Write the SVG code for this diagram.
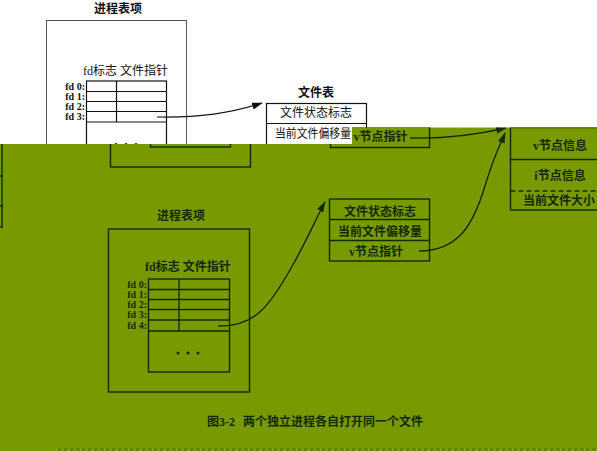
<svg xmlns="http://www.w3.org/2000/svg" width="597" height="451" viewBox="0 0 597 451">
<style>
.wb{fill:none;stroke:#555;stroke-width:1}
.wt{fill:none;stroke:#111;stroke-width:1.2}
.cj{font-family:"Liberation Serif","Noto Sans CJK SC",serif;font-size:12px;fill:#111}
.hd{font-weight:bold}
.fd{font-family:"Liberation Serif",serif;font-size:10px;font-weight:bold;fill:#111;text-anchor:end}
.g{fill:none;stroke:#0f2c00;stroke-width:1.4}
.gt{font-family:"Liberation Serif","Noto Sans CJK SC",serif;font-size:12px;font-weight:bold;fill:#112a00}
.gfd{font-family:"Liberation Serif",serif;font-size:10px;font-weight:bold;fill:#112a00;text-anchor:end}
.mid{text-anchor:middle}
.cw{fill:none;stroke:#111;stroke-width:1.2}
.cg{fill:none;stroke:#0f2c00;stroke-width:1.4}
</style>
<defs>
<marker id="aw" markerWidth="11" markerHeight="7" refX="10" refY="3.5" orient="auto" markerUnits="userSpaceOnUse"><path d="M0,0 L11,3.5 L0,7 z" fill="#111"/></marker>
<marker id="ag" markerWidth="11" markerHeight="7" refX="10" refY="3.5" orient="auto" markerUnits="userSpaceOnUse"><path d="M0,0 L11,3.5 L0,7 z" fill="#0f2c00"/></marker>
<clipPath id="gc"><rect x="0" y="144" width="597" height="307"/><rect x="352" y="127.5" width="245" height="17"/></clipPath>
</defs>
<rect width="597" height="451" fill="#ffffff"/>

<!-- white layer -->
<g id="proc-entry-top">
<text class="cj hd mid" x="118" y="13">进程表项</text>
<rect class="wb" x="46.5" y="20.5" width="140" height="150"/>
<text class="cj" x="83" y="75">fd标志 文件指针</text>
<rect class="wt" x="86.5" y="81" width="80" height="80"/>
<path class="wt" d="M86.5,91.5H166.5M86.5,101.5H166.5M86.5,111.5H166.5M86.5,122H166.5M116.5,81V122"/>
<text class="fd" x="85" y="89.5">fd 0:</text>
<text class="fd" x="85" y="99.5">fd 1:</text>
<text class="fd" x="85" y="110">fd 2:</text>
<text class="fd" x="85" y="120">fd 3:</text>
<g fill="#111"><circle cx="116" cy="144.5" r="1.5"/><circle cx="126" cy="144.5" r="1.5"/><circle cx="136" cy="144.5" r="1.5"/></g>
</g>
<g id="file-table-top">
<text class="cj hd mid" x="316" y="97">文件表</text>
<rect class="wt" x="266.5" y="103.5" width="100" height="62"/>
<path class="wt" d="M266.5,123.5H366.5"/>
<text class="cj mid" x="316" y="117">文件状态标志</text>
<text class="cj" x="275" y="138" textLength="76" lengthAdjust="spacingAndGlyphs">当前文件偏移量</text>
</g>
<g id="connectors-top">
<path class="cw" d="M157,117 C200,118 235,112 262,103" marker-end="url(#aw)"/>
</g>

<!-- green overlay -->
<rect x="0" y="144" width="597" height="307" fill="#789a00"/>
<rect x="352" y="127.5" width="245" height="17" fill="#789a00"/>

<g clip-path="url(#gc)">
<g id="edge-left">
<path class="g" d="M2,140V227M0,176H3M0,206H3M0,227H3"/>
</g>
<g id="proc-entry-1">
<rect class="g" x="110.5" y="20" width="140" height="147"/>
<rect class="g" x="150.5" y="81" width="80" height="66"/>
</g>
<g id="file-table-1">
<rect class="g" x="330.5" y="86" width="99" height="61.5"/>
<path class="g" d="M330.5,106.5H429.5M330.5,127H429.5"/>
<text class="gt" x="353.5" y="141" font-size="11">v节点指针</text>
</g>
<g id="vnode-table">
<rect class="g" x="510.5" y="127.5" width="100" height="82.5"/>
<path class="g" d="M510.5,159.5H610.5"/>
<path class="g" d="M510.5,191H610.5" stroke-dasharray="5,3"/>
<text class="gt mid" x="560" y="150">v节点信息</text>
<text class="gt mid" x="560" y="180">i节点信息</text>
<text class="gt mid" x="559" y="204.5">当前文件大小</text>
</g>
<g id="proc-entry-2">
<text class="gt mid" x="181" y="220">进程表项</text>
<rect class="g" x="108.5" y="229" width="141" height="163"/>
<text class="gt" x="145" y="271">fd标志 文件指针</text>
<rect class="g" x="148.5" y="279" width="81" height="93"/>
<path class="g" d="M148.5,289.5H229.5M148.5,299.5H229.5M148.5,309.5H229.5M148.5,320H229.5M148.5,331H229.5M179,279V331"/>
<text class="gfd" x="147" y="288">fd 0:</text>
<text class="gfd" x="147" y="298">fd 1:</text>
<text class="gfd" x="147" y="308">fd 2:</text>
<text class="gfd" x="147" y="318">fd 3:</text>
<text class="gfd" x="147" y="329">fd 4:</text>
<g fill="#0f2c00"><circle cx="178" cy="353" r="1.5"/><circle cx="188" cy="353" r="1.5"/><circle cx="198" cy="353" r="1.5"/></g>
</g>
<g id="file-table-2">
<rect class="g" x="329.5" y="199" width="100" height="62"/>
<path class="g" d="M329.5,219.5H429.5M329.5,240.5H429.5"/>
<text class="gt mid" x="380" y="216">文件状态标志</text>
<text class="gt mid" x="380" y="236">当前文件偏移量</text>
<text class="gt mid" x="376" y="256">v节点指针</text>
</g>
<g id="connectors">
<path class="cg" d="M410,138 C450,139 480,134 506,128" marker-end="url(#ag)"/>
<path class="cg" d="M419,251 C460,251 474,222 485,186 S500,146 505,133" marker-end="url(#ag)"/>
<path class="cg" d="M218,326 C255,327 270,305 290,270 S315,220 325,202" marker-end="url(#ag)"/>
</g>
<g id="caption">
<text class="gt" x="207" y="426">图3-2</text>
<text class="gt" x="243" y="426" font-size="11.8">两个独立进程各自打开同一个文件</text>
</g>
<path d="M56,449.5H597" stroke="#5e7c00" stroke-width="2"/>
<path d="M56,449.5H597" stroke="#a9bd55" stroke-width="1.5" stroke-dasharray="1.5,4.5"/>
</g>
</svg>
